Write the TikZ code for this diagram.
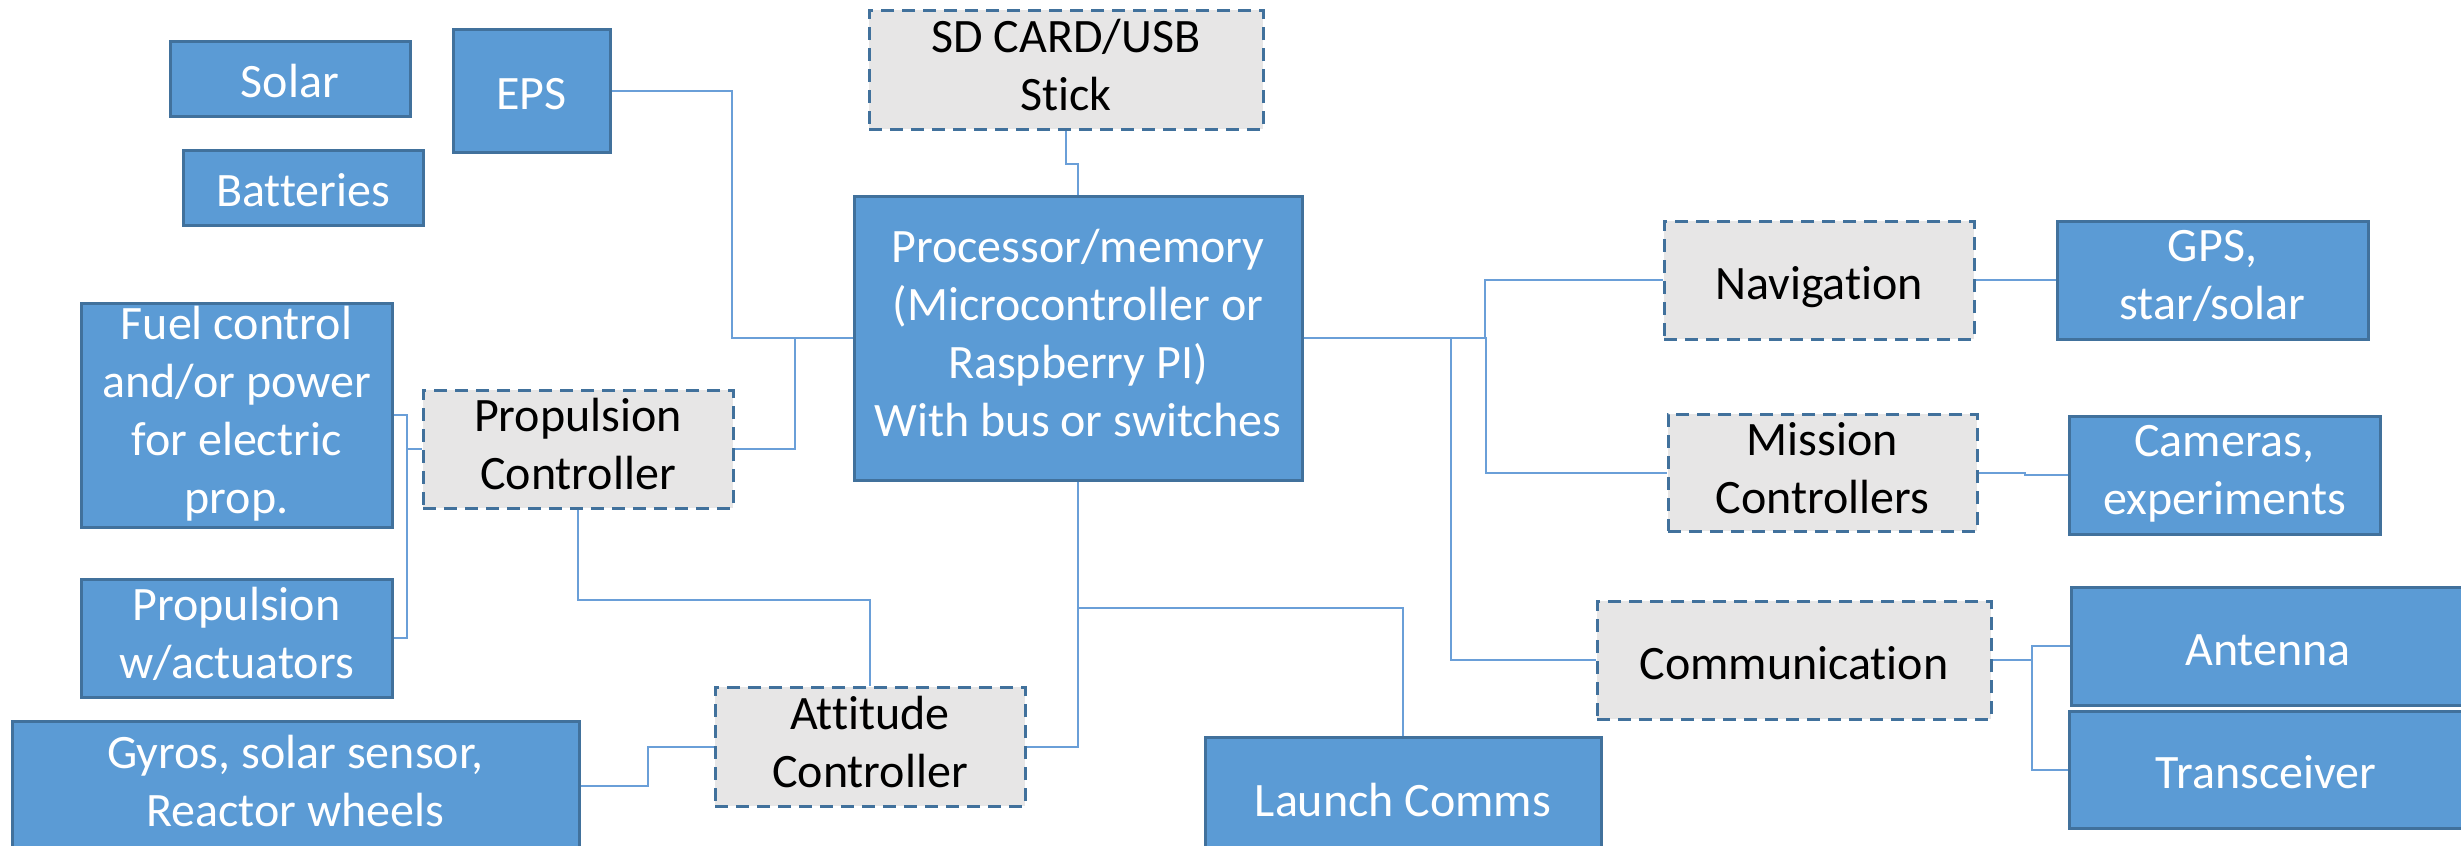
\documentclass[tikz,border=0pt]{standalone}
\usepackage{fontspec}
\setmainfont{Carlito}[Ligatures={NoCommon,NoContextual}]
\definecolor{boxblue}{HTML}{5B9BD5}
\definecolor{edgeblue}{HTML}{41719C}
\definecolor{boxgray}{HTML}{E7E6E6}
\definecolor{wireblue}{HTML}{6A9FD8}
% fixed line box: 48pt above the baseline, 10pt below
\newcommand\nodestrut{\rule[-10pt]{0pt}{58pt}}
\begin{document}
\begin{tikzpicture}[x=1pt,y=-1pt,
  boxtext/.style={align=center, inner sep=0pt,
    font=\fontsize{48}{58}\selectfont,
    execute at begin node=\nodestrut, execute at end node=\nodestrut},
  unit/.style={rectangle, boxtext, fill=boxblue, draw=edgeblue, line width=3pt,
    text=white},
  ctrl/.style={rectangle, boxtext, fill=boxgray, draw=edgeblue, line width=3pt,
    dash pattern=on 13pt off 8pt, text=black},
  wire/.style={draw=wireblue, line width=2pt}]
\useasboundingbox (0,0) rectangle (2461,846);
\fill[white] (0,0) rectangle (2461,846);
\clip (0,0) rectangle (2461,846);

% power
\node[unit, minimum width=240pt, minimum height=75pt] (solar) at (290,78.5) {Solar};
\node[unit, minimum width=157pt, minimum height=123pt] (eps) at (531.5,90.5) {EPS};
\node[unit, minimum width=240pt, minimum height=75pt] (batt) at (303,187.5) {Batteries};

% storage and processor
\node[ctrl, minimum width=394pt, minimum height=119pt] (sd) at (1066,69.5) {SD CARD/USB\\Stick};
\node[unit, minimum width=448pt, minimum height=284pt] (proc) at (1078,338)
  {Processor/memory\\(Microcontroller or\\Raspberry PI)\\With bus or switches};

% propulsion
\node[unit, minimum width=311pt, minimum height=224pt] (fuel) at (236.5,415)
  {Fuel control\\and/or power\\for electric\\prop.};
\node[ctrl, minimum width=310pt, minimum height=118pt] (propc) at (578,449) {Propulsion\\Controller};
\node[unit, minimum width=311pt, minimum height=118pt] (propa) at (236.5,638) {Propulsion\\w/actuators};

% attitude
\node[unit, minimum width=567pt, minimum height=129pt] (gyros) at (295.5,785.5)
  {Gyros, solar sensor,\\Reactor wheels};
\node[ctrl, minimum width=310pt, minimum height=119pt] (attc) at (870,746.5) {Attitude\\Controller};
\node[unit, minimum width=396pt, minimum height=120pt] (launch) at (1403,797) {Launch Comms};

% navigation, mission, communication
\node[ctrl, minimum width=310pt, minimum height=118pt] (nav) at (1819,280) {Navigation};
\node[unit, minimum width=311pt, minimum height=118pt] (gps) at (2212.5,280) {GPS,\\star/solar};
\node[ctrl, minimum width=309pt, minimum height=117pt] (mission) at (1822.5,472.5) {Mission\\Controllers};
\node[unit, minimum width=311pt, minimum height=118pt] (cams) at (2224.5,475) {Cameras,\\experiments};
\node[ctrl, minimum width=394pt, minimum height=118pt] (comm) at (1794,660) {Communication};
\node[unit, minimum width=394pt, minimum height=118pt] (ant) at (2268,646) {Antenna};
\node[unit, minimum width=394pt, minimum height=117pt] (trx) at (2266,769.5) {Transceiver};

% connectors
\draw[wire] (eps.east) -- ++(120,0) |- (proc.west);
\draw[wire] (propc.east) -- ++(60,0) |- (proc.west);
\draw[wire] (sd.south) -- ++(0,33) -| (proc.north);
\coordinate (pbus) at (407,449);
\draw[wire] (fuel.east) -| (pbus) |- (propa.east);
\draw[wire] (propc.west) -- (pbus);
\draw[wire] (propc.south) -- ++(0,90) -| (attc.north);
\draw[wire] (gyros.east) -- ++(67,0) |- (attc.west);
\draw[wire] (proc.south) |- (attc.east);
\draw[wire] (launch.north) -- ++(0,-128) -| (proc.south);
\draw[wire] (proc.east) -- ++(181,0) |- (nav.west);
\draw[wire] (proc.east) -- ++(182,0) |- (mission.west);
\draw[wire] (proc.east) -- ++(147,0) |- (comm.west);
\draw[wire] (nav.east) -- ++(41,0) |- (gps.west);
\draw[wire] (mission.east) -- ++(46,0) |- (cams.west);
\draw[wire] (comm.east) -- ++(39,0) coordinate (cbus);
\draw[wire] (cbus) |- (ant.west);
\draw[wire] (cbus) |- (trx.west);
\end{tikzpicture}
\end{document}
